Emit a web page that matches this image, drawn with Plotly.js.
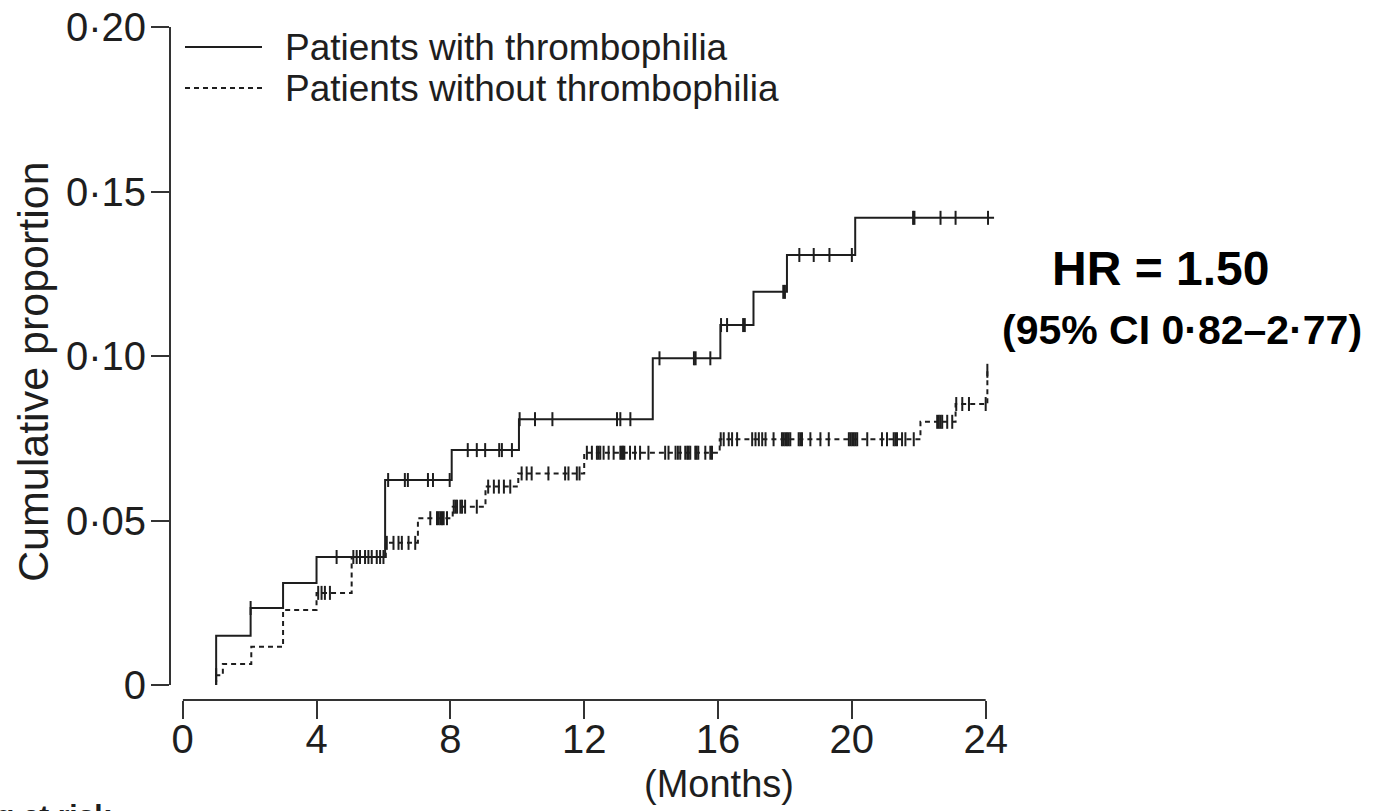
<!DOCTYPE html>
<html>
<head>
<meta charset="utf-8">
<script src="https://cdn.plot.ly/plotly-3.0.1.min.js"></script>
<style>
html,body{margin:0;padding:0;background:#ffffff;}
#chart{width:1375px;height:811px;}
</style>
</head>
<body>
<div id="chart"></div>
<script>
// ---------------- DATA ----------------
// Patients with thrombophilia: event times (months) and cumulative proportion after each event
const thrombEventTimes = [1.0, 2.03, 3.0, 4.0, 6.05, 8.04, 10.05, 14.05, 16.07, 17.06, 18.06, 20.1];
const thrombCumulative = [0.015, 0.0234, 0.031, 0.0389, 0.0623, 0.0714, 0.0808, 0.0993, 0.1094, 0.1195, 0.1307, 0.142];
const thrombLastFollowUp = 24.25;
const thrombCensorTimes = [2.03, 4.6, 5.3, 5.8, 6.14, 6.64, 6.73, 7.33, 7.48, 7.98,
  8.52, 8.79, 9.04, 9.46, 9.54, 9.84, 10.07, 10.53, 11.05, 12.98, 13.08, 13.38,
  14.25, 15.28, 15.33, 15.77, 16.09, 16.27, 16.75, 16.8, 17.95, 18.0,
  18.43, 18.86, 19.33, 20.0, 21.83, 21.87, 22.65, 23.1, 24.07];

// Patients without thrombophilia
const noThrombEventTimes = [1.0, 1.2, 2.05, 3.0, 4.0, 5.05, 6.07, 7.03, 8.07, 9.05, 10.03, 12.0, 16.05, 22.05, 23.1, 24.05];
const noThrombCumulative = [0.003, 0.0064, 0.0116, 0.0228, 0.028, 0.0389, 0.0432, 0.0507, 0.0542, 0.0603, 0.0643, 0.0706, 0.0747, 0.080, 0.0854, 0.0955];
const noThrombLastFollowUp = 24.05;
const noThrombCensorTimes = [1.0, 4.05, 4.15, 4.25, 4.4,
  5.1, 5.2, 5.3, 5.45, 5.55, 5.65, 5.9, 6.0,
  6.1, 6.3, 6.45, 6.55, 6.75, 6.95,
  7.4, 7.6, 7.65, 7.7, 7.75, 7.8, 7.9,
  8.1, 8.15, 8.2, 8.3, 8.35, 8.44, 8.79,
  9.13, 9.3, 9.45, 9.6, 9.79,
  10.13, 10.28, 10.43, 10.93, 11.43, 11.53, 11.78, 11.86,
  12.08, 12.23, 12.38, 12.43, 12.48, 12.58, 12.73, 12.88, 13.08, 13.12, 13.16, 13.2,
  13.37, 13.52, 13.67, 13.92, 14.42, 14.52, 14.73, 14.8, 14.87, 15.02, 15.08, 15.12,
  15.17, 15.32, 15.36, 15.41, 15.62, 15.77, 15.82,
  16.08, 16.17, 16.32, 16.42, 16.57, 17.02, 17.12, 17.22, 17.32, 17.42, 17.66,
  17.91, 17.96, 18.01, 18.06, 18.11, 18.16, 18.41, 18.46, 18.51, 18.76, 19.06, 19.31,
  19.91, 19.96, 20.01, 20.06, 20.11, 20.16, 20.46, 20.9, 21.05, 21.25, 21.3, 21.35,
  21.5, 21.6, 21.85,
  22.55, 22.6, 22.65, 22.7, 22.85, 23.0,
  23.12, 23.3, 23.5, 24.0, 24.05];

const seriesNames = ['Patients with thrombophilia', 'Patients without thrombophilia'];
const xTickVals = [0, 4, 8, 12, 16, 20, 24];
const xTickText = ['0', '4', '8', '12', '16', '20', '24'];
const yTickVals = [0, 0.05, 0.10, 0.15, 0.20];
const yTickText = ['0', '0\u00B705', '0\u00B710', '0\u00B715', '0\u00B720'];
const xTitle = '(Months)';
const yTitle = 'Cumulative proportion';
const hrText = 'HR = 1.50';
const ciText = '(95% CI 0\u00B782\u20132\u00B777)';
const riskText = 'g at risk';

// ---------------- helpers ----------------
function stepPath(times, cum, last) {
  const x = [times[0]].concat(times, [last]);
  const y = [0].concat(cum, [cum[cum.length - 1]]);
  return {x: x, y: y};
}
function stepValue(times, cum, t) {
  let v = 0;
  for (let i = 0; i < times.length; i++) { if (t >= times[i]) v = cum[i]; }
  return v;
}

const W = 1375, H = 811;
const px = v => v / W;
const py = v => 1 - v / H;

const ink = '#1e1e1e';
const axisInk = '#333333';
const font = 'Liberation Sans, Arial, sans-serif';

const s1 = stepPath(thrombEventTimes, thrombCumulative, thrombLastFollowUp);
const s2 = stepPath(noThrombEventTimes, noThrombCumulative, noThrombLastFollowUp);

const traces = [
  {x: s1.x, y: s1.y, type: 'scatter', mode: 'lines', name: seriesNames[0],
   line: {shape: 'hv', color: ink, width: 2}, hoverinfo: 'skip'},
  {x: s2.x, y: s2.y, type: 'scatter', mode: 'lines', name: seriesNames[1],
   line: {shape: 'hv', color: ink, width: 2, dash: '5px,4px'}, hoverinfo: 'skip'},
  {x: thrombCensorTimes, y: thrombCensorTimes.map(t => stepValue(thrombEventTimes, thrombCumulative, t)),
   type: 'scatter', mode: 'markers', name: seriesNames[0] + ' (censored)', cliponaxis: false,
   marker: {symbol: 'line-ns-open', size: 10, color: ink, line: {color: ink, width: 2}}},
  {x: noThrombCensorTimes, y: noThrombCensorTimes.map(t => stepValue(noThrombEventTimes, noThrombCumulative, t)),
   type: 'scatter', mode: 'markers', name: seriesNames[1] + ' (censored)', cliponaxis: false,
   marker: {symbol: 'line-ns-open', size: 10, color: ink, line: {color: ink, width: 2}}}
];

const x0px = 182.7, monthPx = 33.458, xMax = 24.4;

const layout = {
  width: W, height: H,
  margin: {l: 0, r: 0, t: 0, b: 0},
  paper_bgcolor: '#ffffff', plot_bgcolor: 'rgba(0,0,0,0)',
  showlegend: false,
  font: {family: font, color: ink},
  xaxis: {
    domain: [px(x0px), px(x0px + xMax * monthPx)], range: [0, xMax],
    anchor: 'free', position: py(700),
    showline: false, showgrid: false, zeroline: false,
    ticks: 'outside', ticklen: 18, tickwidth: 2, tickcolor: axisInk,
    ticklabelstandoff: -14,
    tickvals: xTickVals, ticktext: xTickText,
    tickfont: {family: font, size: 40, color: ink},
    automargin: false, fixedrange: true
  },
  yaxis: {
    domain: [py(685), py(27)], range: [0, 0.2],
    anchor: 'free', position: px(170),
    showline: true, linewidth: 2, linecolor: axisInk,
    showgrid: false, zeroline: false,
    ticks: 'outside', ticklen: 18, tickwidth: 2, tickcolor: axisInk,
    ticklabelstandoff: -3,
    tickvals: yTickVals, ticktext: yTickText,
    tickfont: {family: font, size: 40, color: ink},
    automargin: false, fixedrange: true
  },
  shapes: [
    // x axis line (from 0 to 24 months)
    {type: 'line', xref: 'x', yref: 'paper', x0: xTickVals[0], x1: xTickVals[xTickVals.length - 1],
     y0: py(700), y1: py(700), line: {color: axisInk, width: 2}},
    // legend keys
    {type: 'line', xref: 'paper', yref: 'paper', x0: px(185), x1: px(262), y0: py(47), y1: py(47),
     line: {color: ink, width: 2}},
    {type: 'line', xref: 'paper', yref: 'paper', x0: px(185), x1: px(262), y0: py(88), y1: py(88),
     line: {color: ink, width: 2, dash: '5px,4px'}}
  ],
  annotations: [
    {xref: 'paper', yref: 'paper', x: px(283), y: py(47), xanchor: 'left', yanchor: 'middle',
     text: seriesNames[0], showarrow: false, font: {family: font, size: 37, color: ink}},
    {xref: 'paper', yref: 'paper', x: px(283), y: py(88), xanchor: 'left', yanchor: 'middle',
     text: seriesNames[1], showarrow: false, font: {family: font, size: 37, color: ink}},
    {xref: 'paper', yref: 'paper', x: px(719), y: py(784), xanchor: 'center', yanchor: 'middle',
     text: xTitle, showarrow: false, font: {family: font, size: 38, color: ink}},
    {xref: 'paper', yref: 'paper', x: px(33), y: py(372), xanchor: 'center', yanchor: 'middle',
     text: yTitle, textangle: -90, showarrow: false, font: {family: font, size: 43, color: ink}},
    {xref: 'paper', yref: 'paper', x: px(1160), y: py(268), xanchor: 'center', yanchor: 'middle',
     text: '<b>' + hrText + '</b>', showarrow: false, font: {family: font, size: 48, color: '#000'}},
    {xref: 'paper', yref: 'paper', x: px(1182), y: py(330), xanchor: 'center', yanchor: 'middle',
     text: '<b>' + ciText + '</b>', showarrow: false, font: {family: font, size: 41, color: '#000'}},
    {xref: 'paper', yref: 'paper', x: px(-6), y: py(815), xanchor: 'left', yanchor: 'middle',
     text: '<b>' + riskText + '</b>', showarrow: false, font: {family: font, size: 30, color: ink}}
  ]
};

Plotly.newPlot('chart', traces, layout, {displayModeBar: false, staticPlot: true});
</script>
</body>
</html>
